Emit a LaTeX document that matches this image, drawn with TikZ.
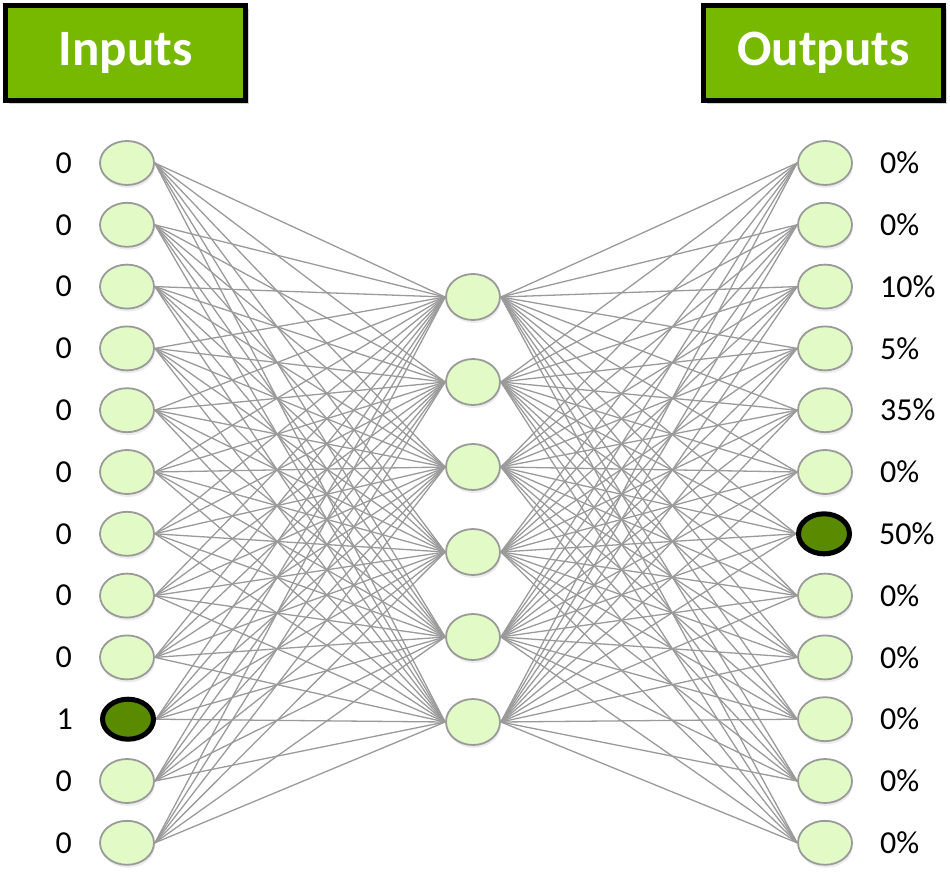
\documentclass[tikz,border=0pt]{standalone}
\usepackage{fontspec}
\setmainfont{Carlito}
\usetikzlibrary{shadows,shapes.geometric,backgrounds}
\definecolor{nvgreen}{HTML}{76B900}
\definecolor{nodefill}{HTML}{E2FBC6}
\definecolor{darkfill}{HTML}{5A8A00}
\definecolor{linegray}{HTML}{9A9A9A}
\tikzset{
  neuron/.style={ellipse,minimum width=54pt,minimum height=44pt,inner sep=0pt,draw=linegray,line width=1.8pt,fill=nodefill,
    drop shadow={shadow xshift=1pt,shadow yshift=-3pt,opacity=0.15}},
  hot/.style={draw=black,line width=5pt,fill=darkfill,minimum width=51pt,minimum height=40pt},
  conn/.style={draw=linegray,line width=1.3pt},
  header/.style={draw=black,line width=5pt,fill=nvgreen,minimum width=240pt,minimum height=95pt,inner sep=0pt,
    text=white,font=\bfseries\fontsize{51}{51}\selectfont,
    drop shadow={shadow xshift=3pt,shadow yshift=-4pt,opacity=0.35}},
  lbl/.style={font=\fontsize{32}{32}\selectfont,inner sep=0pt},
}
\begin{document}
\begin{tikzpicture}[x=1pt,y=-1pt]
\useasboundingbox (0,0) rectangle (950,872);
\node[header] (inbox) at (125.5,53) {\raisebox{-4pt}{Inputs}};
\node[header] (outbox) at (823.5,53) {\raisebox{-4pt}{Outputs}};
% hidden layer
\foreach \j/\y in {1/297,2/382,3/467,4/552,5/637,6/722}{
  \node[neuron,minimum height=46pt] (h\j) at (473,\y) {};
}
% input and output layers
\foreach \i/\y in {1/163,2/224.8,3/286.6,4/348.4,5/410.2,6/472,7/533.8,8/595.6,9/657.4,10/719.2,11/781,12/842.8}{
  \ifnum\i=10
    \node[neuron,hot] (in\i) at (128,\y) {};
  \else
    \node[neuron] (in\i) at (127,\y) {};
  \fi
  \ifnum\i=7
    \node[neuron,hot] (out\i) at (824,\y) {};
  \else
    \node[neuron] (out\i) at (825,\y) {};
  \fi
}
% connections
\begin{scope}[on background layer]
\foreach \i in {1,...,12}{
  \foreach \j in {1,...,6}{
    \draw[conn] (in\i.east) -- (h\j.west);
    \draw[conn] (h\j.east) -- (out\i.west);
  }
}
\end{scope}
% input labels
\foreach \i/\t in {1/0,2/0,3/0,4/0,5/0,6/0,7/0,8/0,9/0,10/1,11/0,12/0}{
  \node[lbl,anchor=east] (il\i) at ([xshift=-55pt]in\i.center) {\t};
}
% output labels
\foreach \i/\t in {1/0\%,2/0\%,3/10\%,4/5\%,5/35\%,6/0\%,7/50\%,8/0\%,9/0\%,10/0\%,11/0\%,12/0\%}{
  \node[lbl,anchor=west] (ol\i) at ([xshift=55pt]out\i.center) {\t};
}
\end{tikzpicture}
\end{document}
